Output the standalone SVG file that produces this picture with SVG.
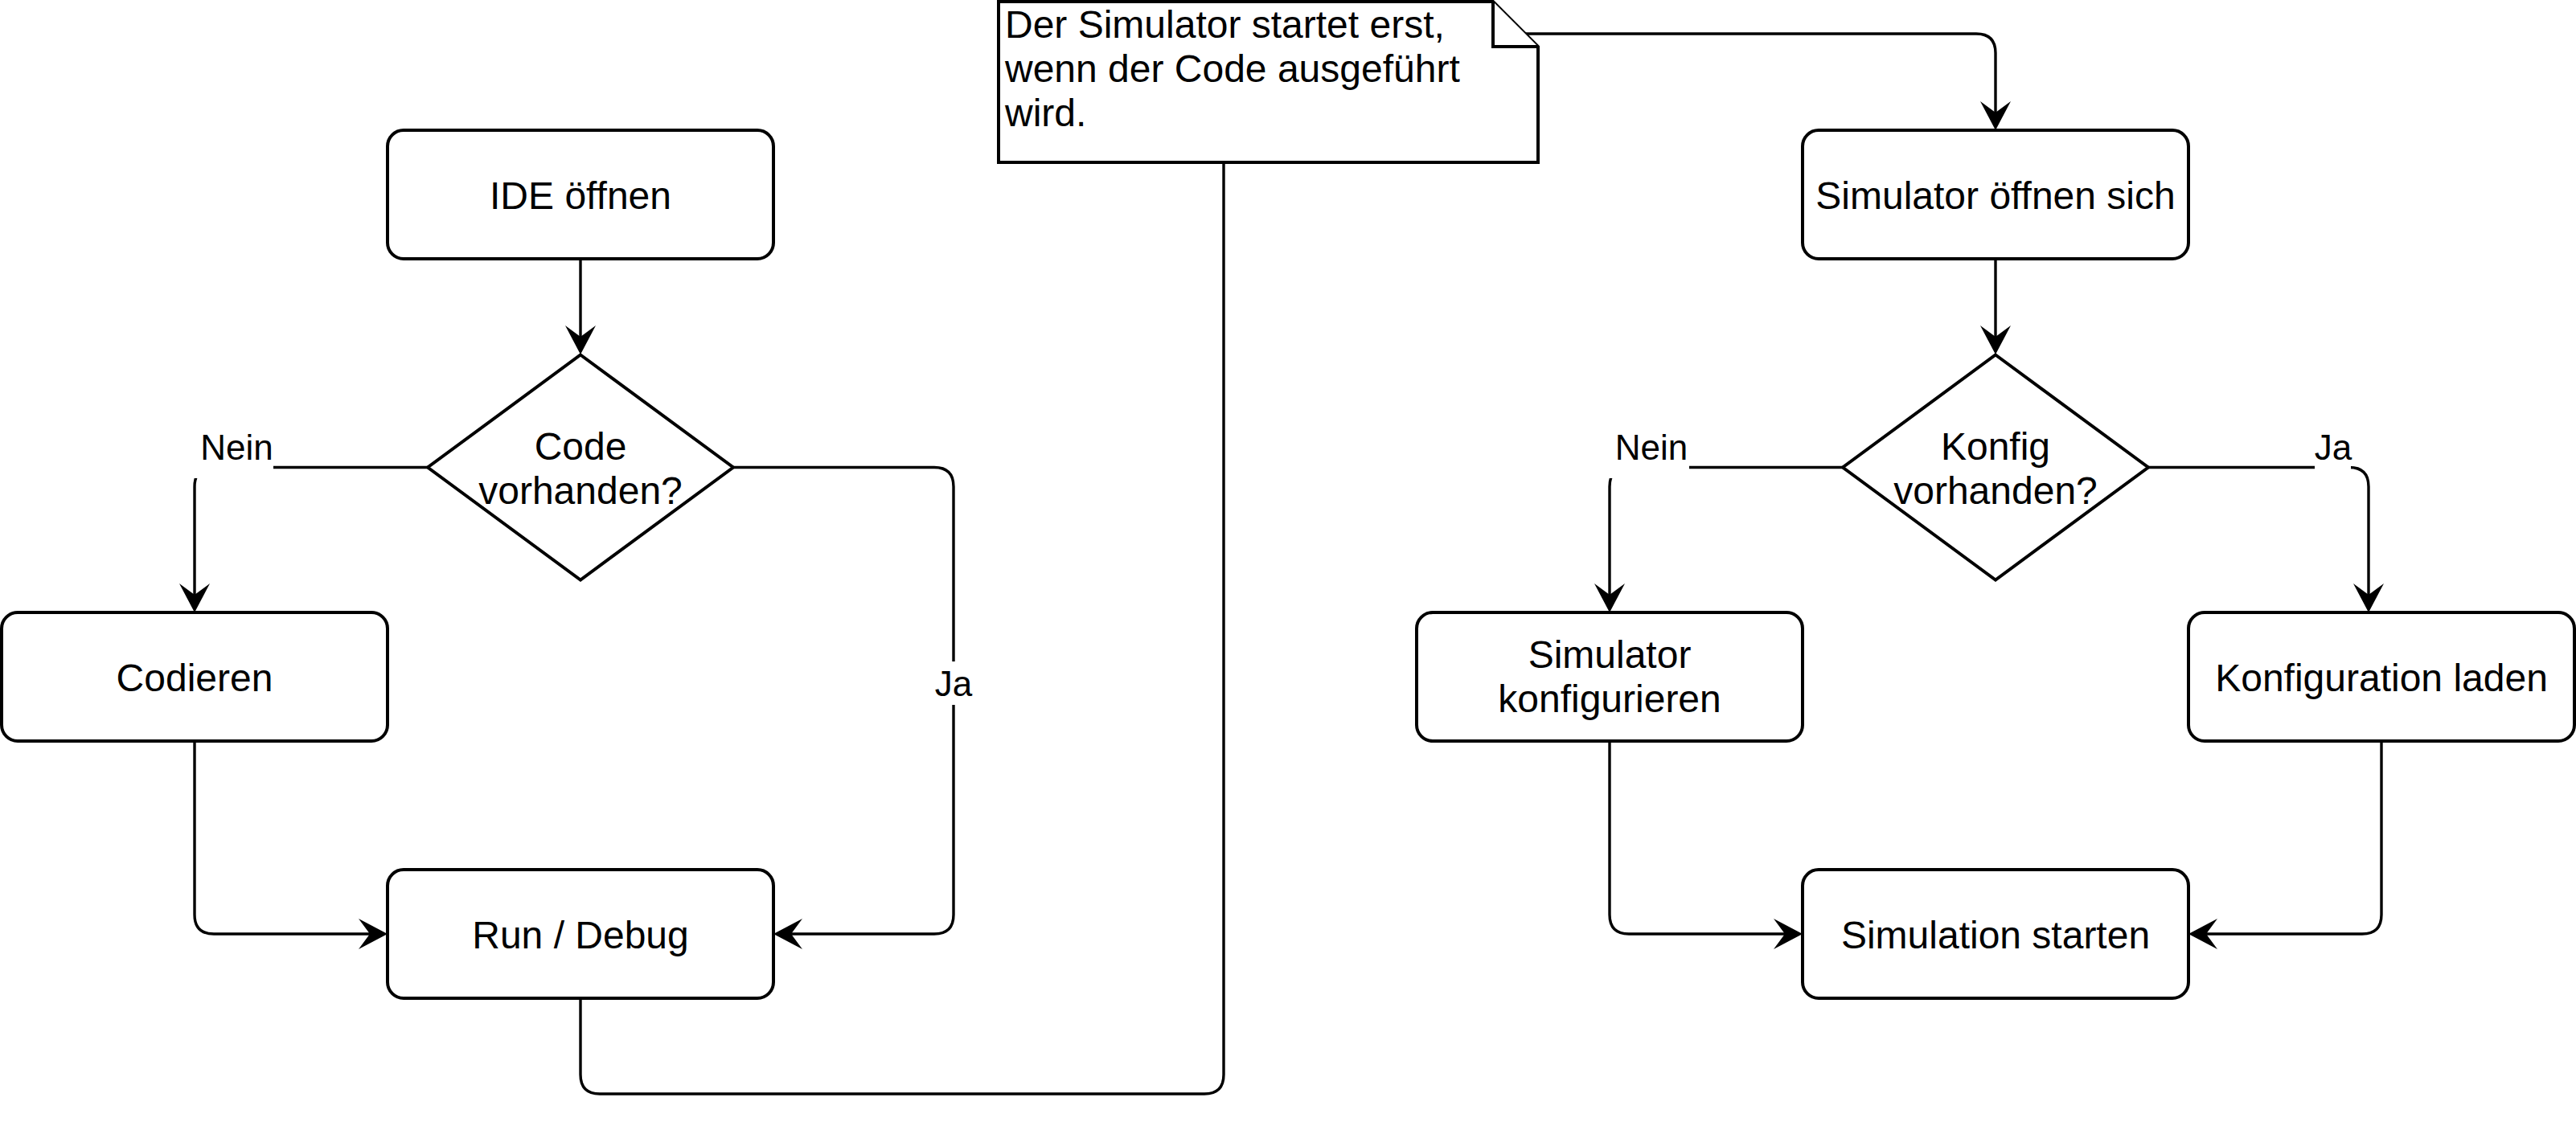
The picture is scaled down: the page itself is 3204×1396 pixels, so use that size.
<svg xmlns="http://www.w3.org/2000/svg" width="3204" height="1396" viewBox="0 0 3204 1396">
<style>
.node{fill:#fff;stroke:#000;stroke-width:4}
.edge{fill:none;stroke:#000;stroke-width:3.4}
.t{font-family:"Liberation Sans",Arial,sans-serif;font-size:48px;fill:#000;text-anchor:middle}
.lbl{font-family:"Liberation Sans",Arial,sans-serif;font-size:44px;fill:#000;text-anchor:middle}
.bg{fill:#fff;stroke:none}
</style>
<defs>
<marker id="arr" markerUnits="userSpaceOnUse" markerWidth="40" markerHeight="40" viewBox="0 0 40 40" refX="14" refY="19" orient="auto">
<path d="M36,19 L0,0 L14,19 L0,38 Z" fill="#000"/>
</marker>
</defs>
<rect width="3204" height="1396" fill="#fff"/>
<g id="connectors">
<path class="edge" d="M722,322 V419" marker-end="url(#arr)"/>
<path class="edge" d="M532,581.5 H266 Q242,581.5 242,605.5 V740" marker-end="url(#arr)"/>
<path class="edge" d="M912,581.5 H1162 Q1186,581.5 1186,605.5 V1138 Q1186,1162 1162,1162 H984" marker-end="url(#arr)"/>
<path class="edge" d="M242,922 V1138 Q242,1162 266,1162 H460" marker-end="url(#arr)"/>
<path class="edge" d="M722,1242 V1337 Q722,1361 746,1361 H1498 Q1522,1361 1522,1337 V202"/>
<path class="edge" d="M1898,42 H2458 Q2482,42 2482,66 V140" marker-end="url(#arr)"/>
<path class="edge" d="M2482,322 V419" marker-end="url(#arr)"/>
<path class="edge" d="M2292,581.5 H2026 Q2002,581.5 2002,605.5 V740" marker-end="url(#arr)"/>
<path class="edge" d="M2672,581.5 H2922 Q2946,581.5 2946,605.5 V740" marker-end="url(#arr)"/>
<path class="edge" d="M2002,922 V1138 Q2002,1162 2026,1162 H2220" marker-end="url(#arr)"/>
<path class="edge" d="M2962,922 V1138 Q2962,1162 2938,1162 H2744" marker-end="url(#arr)"/>
<rect class="bg" x="236" y="528" width="104" height="67"/>
<text class="lbl" x="294.5" y="572">Nein</text>
<rect class="bg" x="1996" y="528" width="105" height="67"/>
<text class="lbl" x="2054" y="572">Nein</text>
<rect class="bg" x="2879" y="528" width="45" height="56"/>
<text class="lbl" x="2902" y="572">Ja</text>
<rect class="bg" x="1163" y="823" width="46" height="54"/>
<text class="lbl" x="1186" y="866">Ja</text>
</g>
<g id="ide">
<rect class="node" x="482" y="162" width="480" height="160" rx="20"/>
<text class="t" x="722" y="260">IDE öffnen</text>
</g>
<g id="code-vorhanden">
<polygon class="node" points="722,441.5 912,581.5 722,721.5 532,581.5"/>
<text class="t" x="722" y="572">Code</text>
<text class="t" x="722" y="627">vorhanden?</text>
</g>
<g id="codieren">
<rect class="node" x="2" y="762" width="480" height="160" rx="20"/>
<text class="t" x="242" y="860">Codieren</text>
</g>
<g id="run-debug">
<rect class="node" x="482" y="1082" width="480" height="160" rx="20"/>
<text class="t" x="722" y="1180">Run / Debug</text>
</g>
<g id="note">
<path class="node" d="M1242,2 H1857 L1913,58 V202 H1242 Z"/>
<path class="node" d="M1857,2 V58 H1913" fill="none"/>
<text class="t" style="text-anchor:start" x="1250" y="47">Der Simulator startet erst,</text>
<text class="t" style="text-anchor:start" x="1250" y="102">wenn der Code ausgeführt</text>
<text class="t" style="text-anchor:start" x="1250" y="157">wird.</text>
</g>
<g id="simulator-oeffnen">
<rect class="node" x="2242" y="162" width="480" height="160" rx="20"/>
<text class="t" x="2482" y="260">Simulator öffnen sich</text>
</g>
<g id="konfig-vorhanden">
<polygon class="node" points="2482,441.5 2672,581.5 2482,721.5 2292,581.5"/>
<text class="t" x="2482" y="572">Konfig</text>
<text class="t" x="2482" y="627">vorhanden?</text>
</g>
<g id="simulator-konfigurieren">
<rect class="node" x="1762" y="762" width="480" height="160" rx="20"/>
<text class="t" x="2002" y="831">Simulator</text>
<text class="t" x="2002" y="886">konfigurieren</text>
</g>
<g id="konfiguration-laden">
<rect class="node" x="2722" y="762" width="480" height="160" rx="20"/>
<text class="t" x="2962" y="860">Konfiguration laden</text>
</g>
<g id="simulation-starten">
<rect class="node" x="2242" y="1082" width="480" height="160" rx="20"/>
<text class="t" x="2482" y="1180">Simulation starten</text>
</g>
</svg>
